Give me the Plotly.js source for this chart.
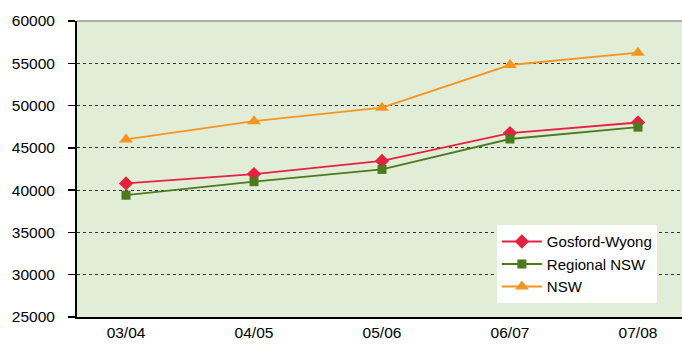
<!DOCTYPE html>
<html>
<head>
<meta charset="utf-8">
<script src="https://cdn.plot.ly/plotly-3.0.1.min.js"></script>
<style>html,body{margin:0;padding:0;background:#fff;}#chart{width:682px;height:345px;}</style>
</head>
<body>
<div id="chart"></div>
<script>
const categories = ["03/04", "04/05", "05/06", "06/07", "07/08"];
const gosfordWyong = [40800, 41900, 43450, 46750, 48000];
const regionalNSW = [39400, 41000, 42450, 46050, 47450];
const nsw = [46000, 48150, 49750, 54800, 56250];
const yTicks = [25000, 30000, 35000, 40000, 45000, 50000, 55000, 60000];

const traces = [
  {x: categories, y: gosfordWyong, name: "Gosford-Wyong", mode: "lines+markers",
   line: {color: "#E8203F", width: 1.8}, marker: {symbol: "diamond", size: 11, color: "#E8203F"}},
  {x: categories, y: regionalNSW, name: "Regional NSW", mode: "lines+markers",
   line: {color: "#4B7A1F", width: 1.8}, marker: {symbol: "square", size: 9, color: "#4B7A1F"}},
  {x: categories, y: nsw, name: "NSW", mode: "lines+markers",
   line: {color: "#F7941D", width: 1.8}, marker: {symbol: "triangle-up", size: 12, color: "#F7941D"}}
];

const layout = {
  width: 682, height: 345,
  margin: {l: 77, r: 0, t: 21, b: 28},
  paper_bgcolor: "#ffffff",
  plot_bgcolor: "#E2EDD7",
  font: {family: "Liberation Sans, Arial, sans-serif", size: 15, color: "#000"},
  showlegend: true,
  legend: {
    x: 0.694, y: 0.31, xanchor: "left", yanchor: "top",
    bgcolor: "#ffffff", borderwidth: 0,
    font: {size: 15, color: "#000"},
    tracegroupgap: 0, itemwidth: 40
  },
  xaxis: {
    type: "category",
    range: [-0.383, 4.344],
    showgrid: false, zeroline: false,
    showline: true, linecolor: "#000", linewidth: 2,
    ticks: "", tickfont: {size: 15.5}
  },
  yaxis: {
    range: [25000, 60000],
    tickvals: yTicks, ticktext: yTicks.map(String),
    showgrid: true, gridcolor: "#333333", griddash: "dot", gridwidth: 1,
    zeroline: false,
    showline: true, linecolor: "#000", linewidth: 2,
    ticks: "outside", ticklen: 7, tickcolor: "#000", tickwidth: 1.5,
    ticklabelstandoff: 10,
    tickfont: {size: 15.5}
  },
  shapes: [
    {type: "line", xref: "paper", yref: "paper", x0: 0, x1: 1, y0: 1, y1: 1,
     line: {color: "#999999", width: 1.5}}
  ]
};

Plotly.newPlot("chart", traces, layout, {displayModeBar: false, staticPlot: true});
</script>
</body>
</html>
